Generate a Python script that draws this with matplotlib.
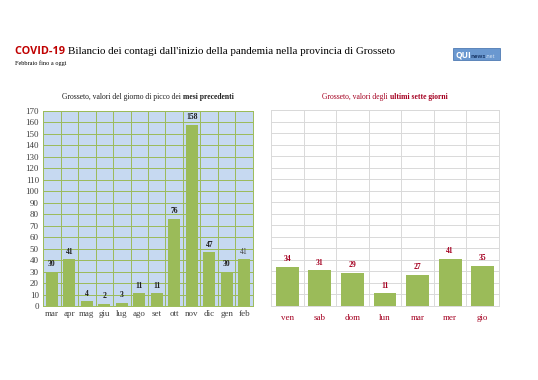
import numpy as np
import matplotlib
matplotlib.use('Agg')
from matplotlib import pyplot as plt

# dati
mesi = ['mar', 'apr', 'mag', 'giu', 'lug', 'ago', 'set', 'ott', 'nov', 'dic', 'gen', 'feb']
picchi = [30, 41, 4, 2, 3, 11, 11, 76, 158, 47, 30, 41]
giorni = ['ven', 'sab', 'dom', 'lun', 'mar', 'mer', 'gio']
ultimi = [34, 31, 29, 11, 27, 41, 35]
y_ticks = list(range(0, 171, 10))

verde = '#9bbb59'
rosso = '#a50021'
serif = ['Liberation Serif', 'DejaVu Serif']
sans = ['Open Sans', 'Liberation Sans', 'DejaVu Sans']

fig = plt.figure(figsize=(5.38, 3.80), dpi=100)
fig.patch.set_facecolor('white')
W, H = 538.0, 380.0


def pezzi(x, y, parti, ha='left'):
    # scrive testi affiancati con stili diversi (x, y in pixel dall'alto)
    r = fig.canvas.get_renderer()
    objs = []
    for testo, kw in parti:
        objs.append(fig.text(0, 0, testo, va='baseline', **kw))
    larg = [o.get_window_extent(r).width for o in objs]
    tot = sum(larg)
    x0 = x - tot / 2 if ha == 'center' else x
    for o, w in zip(objs, larg):
        o.set_position((x0 / W, 1 - y / H))
        x0 += w


# titolo
pezzi(15, 54, [('COVID-19 ', dict(family=sans, weight='bold', color='#c00000', fontsize=7.8)),
               ("Bilancio dei contagi dall'inizio della pandemia nella provincia di Grosseto",
                dict(family=serif, color='black', fontsize=7.9))])
fig.text(15 / W, 1 - 65 / H, 'Febbraio fino a oggi', family=serif, fontsize=4.5, va='baseline')

# logo
fig.patches.append(plt.Rectangle((453 / W, 1 - 60 / H), 47 / W, 12 / H, transform=fig.transFigure,
                                 facecolor='#6a98d0', edgecolor='#3a6aa8', lw=0.5))
pezzi(455, 57.5, [('QUI', dict(family=sans, weight='bold', color='white', fontsize=6)),
                  ('news', dict(family=sans, weight='bold', color='#1d3d6e', fontsize=4.2)),
                  ('.net', dict(family=sans, color='#dce8f7', fontsize=3.8))])

# grafico sinistro
ax1 = fig.add_axes([43 / W, 74 / H, 210 / W, 195 / H])
x1 = np.arange(len(mesi))
ax1.set_facecolor('#c6d9f1')
ax1.bar(x1, picchi, width=0.68, color=verde, zorder=3)
ax1.set_xlim(-0.5, len(mesi) - 0.5)
ax1.set_ylim(0, 170)
ax1.set_yticks(y_ticks)
ax1.set_yticklabels([str(v) for v in y_ticks], family=serif, fontsize=6.5, color='#404040')
ax1.set_xticks(x1)
ax1.set_xticklabels(mesi, family=serif, fontsize=6.5, color='#404040')
ax1.set_xticks(x1[:-1] + 0.5, minor=True)
ax1.tick_params(length=0, which='both', pad=3)
ax1.grid(axis='y', color=verde, lw=0.7, zorder=0)
ax1.grid(axis='x', which='minor', color=verde, lw=0.7, zorder=0)
for s in ax1.spines.values():
    s.set_color(verde)
    s.set_linewidth(0.7)
for i, v in enumerate(picchi):
    ultimo = i == len(picchi) - 1
    ax1.text(i, v + 3, str(v), ha='center', va='bottom', family=serif, fontsize=5.5,
             weight='normal' if ultimo else 'bold', color='#404040' if ultimo else '#1f1f1f', zorder=4)
pezzi(148, 99, [('Grosseto, valori del giorno di picco dei ', dict(family=serif, fontsize=5.5, color='#1f1f1f')),
                ('mesi precedenti', dict(family=serif, fontsize=5.5, weight='bold', color='#1f1f1f'))],
      ha='center')

# grafico destro
ax2 = fig.add_axes([271 / W, 74 / H, 228 / W, 196 / H])
x2 = np.arange(len(giorni))
ax2.bar(x2, ultimi, width=0.7, color=verde, zorder=3)
ax2.set_xlim(-0.5, len(giorni) - 0.5)
ax2.set_ylim(0, 170)
ax2.set_yticks(y_ticks)
ax2.set_yticklabels([])
ax2.set_xticks(x2)
ax2.set_xticklabels(giorni, family=serif, fontsize=6.5, color=rosso)
ax2.set_xticks(x2[:-1] + 0.5, minor=True)
ax2.tick_params(length=0, which='both', pad=6)
ax2.grid(axis='y', color='#d9d9d9', lw=0.7, zorder=0)
ax2.grid(axis='x', which='minor', color='#d9d9d9', lw=0.7, zorder=0)
for s in ax2.spines.values():
    s.set_color('#d9d9d9')
    s.set_linewidth(0.7)
for i, v in enumerate(ultimi):
    ax2.text(i, v + 3, str(v), ha='center', va='bottom', family=serif, fontsize=5.5,
             weight='bold', color=rosso, zorder=4)
pezzi(385, 99, [('Grosseto, valori degli ', dict(family=serif, fontsize=5.5, color=rosso)),
                ('ultimi sette giorni', dict(family=serif, fontsize=5.5, weight='bold', color=rosso))],
      ha='center')

fig.savefig('out.png', dpi=100)
